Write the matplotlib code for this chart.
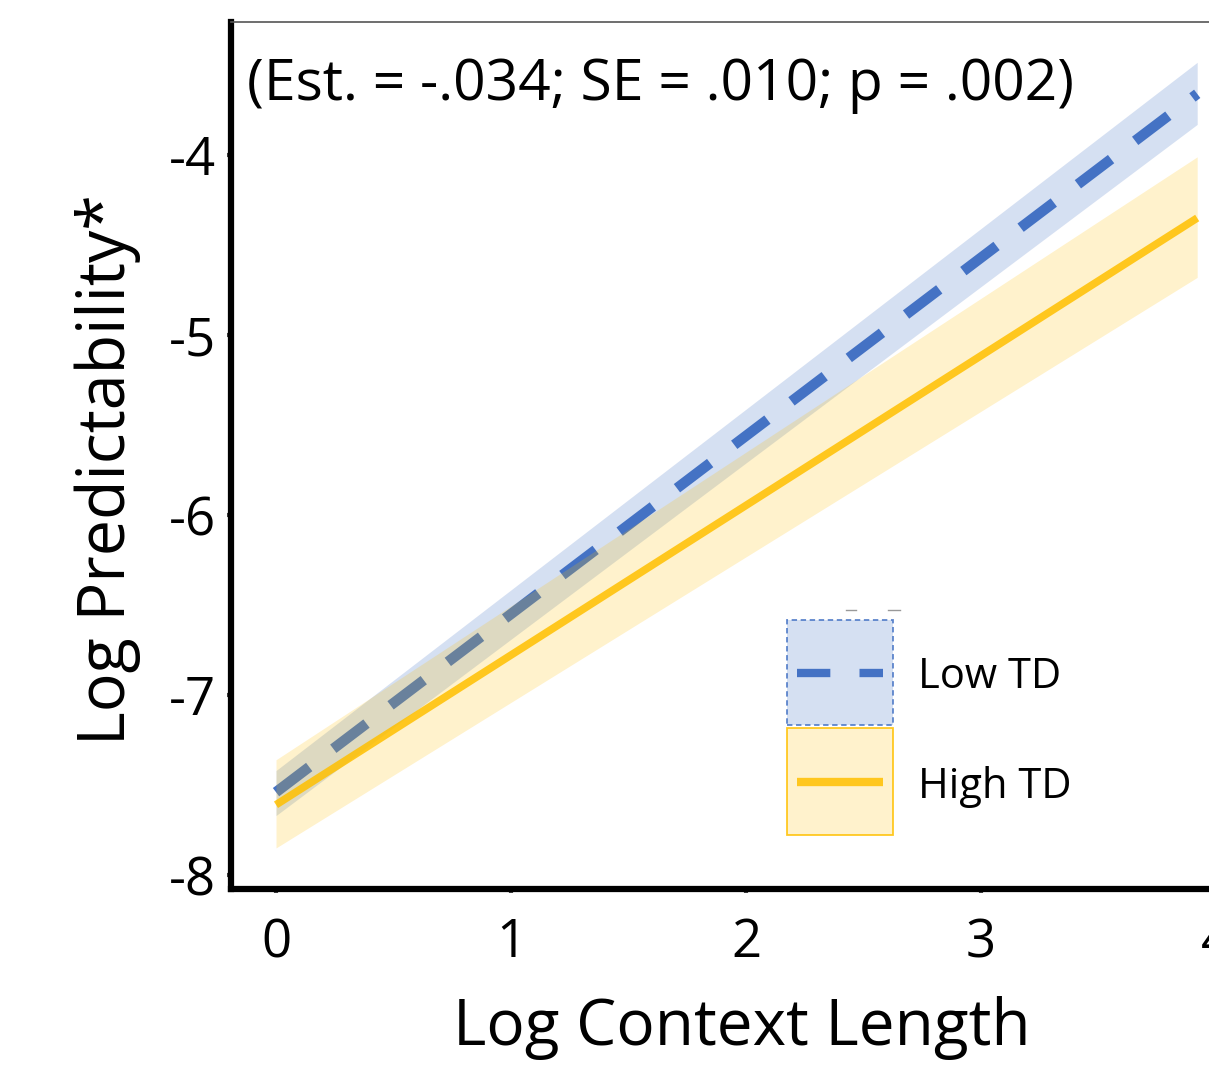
import matplotlib
matplotlib.use("Agg")
import matplotlib.pyplot as plt
from matplotlib.patches import Rectangle
from matplotlib.lines import Line2D

plt.rcParams['font.family'] = ['Open Sans', 'DejaVu Sans']

# ---- data ----
x_ends = [0.0, 3.92]
low_fit = [-7.54, -3.66]
low_lower = [-7.67, -3.83]
low_upper = [-7.42, -3.485]
high_fit = [-7.61, -4.35]
high_lower = [-7.85, -4.68]
high_upper = [-7.36, -4.01]
series_labels = ["Low TD", "High TD"]
x_ticks = [0, 1, 2, 3, 4]
y_ticks = [-8, -7, -6, -5, -4]
annotation = "(Est. = -.034; SE = .010; p = .002)"

BLUE = "#4472C4"
ORANGE = "#FFC000"

W, H = 1209, 1066
fig = plt.figure(figsize=(W / 100, H / 100), dpi=100)
left = 231 / W
bottom = 1 - 889 / H
top = 1 - 22 / H
xmin, xmax = -0.1915, 4.3
px_per_unit = 235
right_px = 276 + xmax * px_per_unit
ax = fig.add_axes([left, bottom, right_px / W - left, top - bottom])
ax.set_xlim(xmin, xmax)
ax.set_ylim(-8.078, -3.261)

# bands and lines
ax.fill_between(x_ends, low_lower, low_upper, color=BLUE, alpha=0.22, lw=0, zorder=1)
ax.plot(x_ends, low_fit, color=BLUE, lw=7.5, dashes=(4.0, 2.9),
        dash_capstyle='butt', zorder=2)
ax.fill_between(x_ends, high_lower, high_upper, color=ORANGE, alpha=0.2, lw=0, zorder=3)
ax.plot(x_ends, high_fit, color=ORANGE, lw=5.5, solid_capstyle='butt', zorder=4,
        alpha=0.85)

# spines
ax.spines['left'].set_linewidth(4.5)
ax.spines['bottom'].set_linewidth(4.5)
ax.spines['left'].set_color('black')
ax.spines['bottom'].set_color('black')
ax.spines['top'].set_linewidth(1.2)
ax.spines['top'].set_color('#555555')
ax.spines['right'].set_visible(False)

ax.set_xticks(x_ticks)
ax.set_yticks(y_ticks)
ax.set_xticklabels([str(v) for v in x_ticks])
ax.set_yticklabels([str(v) for v in y_ticks])
ax.tick_params(axis='both', length=3, width=3, color='#404040', labelsize=38)
ax.tick_params(axis='x', pad=17)
ax.tick_params(axis='y', pad=8)

fig.text(742 / W, 1 - 1045 / H, "Log Context Length", fontsize=46, ha='center',
         va='baseline')
fig.text(108 / W, 1 - 470 / H, "Log Predictability*", fontsize=46.5, ha='center',
         va='center', rotation=90)
fig.text(247 / W, 1 - 100 / H, annotation, fontsize=41, ha='left', va='baseline')


# legend drawn manually in figure pixel space
def fx(px):
    return px / W


def fy(py):
    return 1 - py / H


tf = fig.transFigure
box_x0, box_x1 = 787, 893
rows = [(620, 725, BLUE, 0.22, (0, (3, 2)), (4.0, 3.5)),
        (728, 835, ORANGE, 0.2, 'solid', None)]
for (y0, y1, col, a, ls, dash), label in zip(rows, series_labels):
    fig.patches.append(Rectangle((fx(box_x0), fy(y1)), fx(box_x1) - fx(box_x0),
                                 fy(y0) - fy(y1), transform=tf, facecolor=col,
                                 alpha=a, edgecolor='none'))
    fig.patches.append(Rectangle((fx(box_x0), fy(y1)), fx(box_x1) - fx(box_x0),
                                 fy(y0) - fy(y1), transform=tf, facecolor='none',
                                 edgecolor=col, linestyle=ls, lw=1.3, alpha=0.85))
    ymid = (y0 + y1) / 2
    kw = dict(color=col, lw=6, transform=tf, solid_capstyle='butt')
    if dash is not None:
        kw['dashes'] = dash
        kw['dash_capstyle'] = 'butt'
    else:
        kw['alpha'] = 0.85
    fig.lines.append(Line2D([fx(797), fx(883)], [fy(ymid), fy(ymid)], **kw))
    fig.text(fx(918), fy(ymid), label, fontsize=30, ha='left', va='center_baseline')

# small grey marks above the legend box
for xa, xb in [(846, 856), (888, 900)]:
    fig.lines.append(Line2D([fx(xa), fx(xb)], [fy(610), fy(610)], color='#999999',
                            lw=1, transform=tf))

fig.savefig("out.png", dpi=100)
